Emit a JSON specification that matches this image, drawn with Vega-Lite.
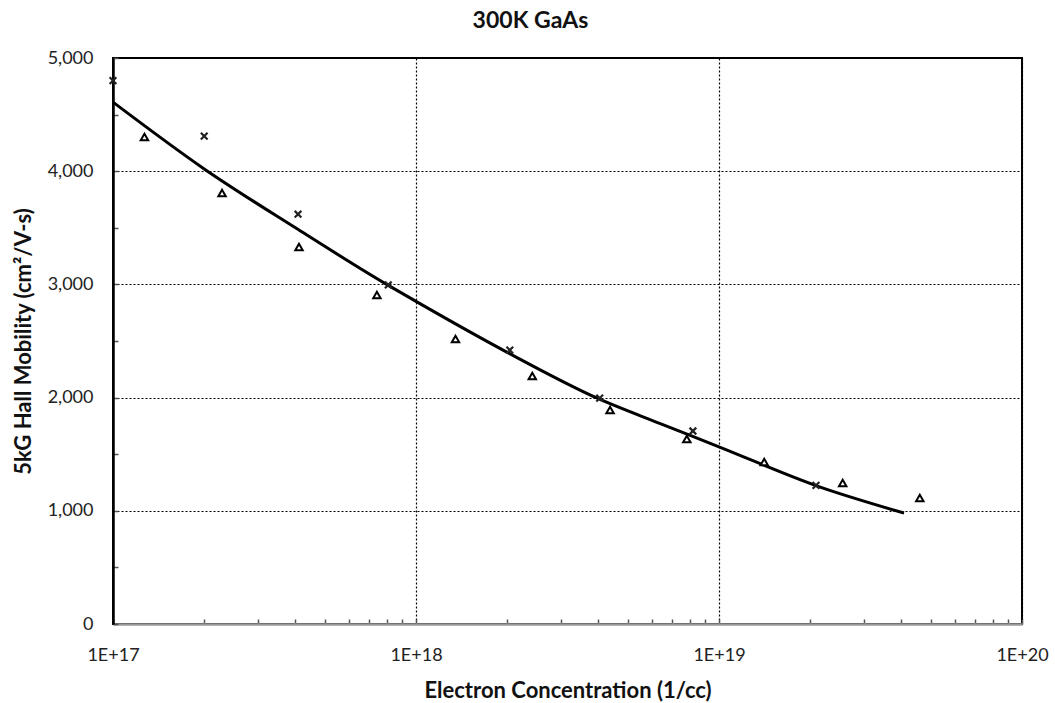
{
  "$schema": "https://vega.github.io/schema/vega-lite/v6.json",
  "width": 909,
  "height": 566,
  "autosize": {"type": "none"},
  "padding": {"left": 113, "top": 58, "right": 33, "bottom": 79},
  "background": "white",
  "title": {"text": "300K GaAs", "font": "Lato", "fontSize": 23, "fontWeight": "bold", "color": "#111", "anchor": "middle", "dx": -37, "offset": 16},
  "config": {
    "view": {"stroke": "black", "strokeWidth": 2},
    "axis": {"labelFont": "Lato", "titleFont": "Lato", "labelFontSize": 18, "titleFontSize": 22, "titleFontWeight": "bold", "labelColor": "#222", "titleColor": "#111", "gridColor": "black", "gridDash": [2, 2], "gridWidth": 1.2, "tickColor": "#555", "tickWidth": 1.5}
  },
  "datasets": {
    "pts": [
      {"n": 1e17, "mu": 4800, "kind": "cross"},
      {"n": 2.0e17, "mu": 4310, "kind": "cross"},
      {"n": 4.08e17, "mu": 3620, "kind": "cross"},
      {"n": 8.1e17, "mu": 2995, "kind": "cross"},
      {"n": 2.04e18, "mu": 2420, "kind": "cross"},
      {"n": 4.04e18, "mu": 1996, "kind": "cross"},
      {"n": 8.2e18, "mu": 1705, "kind": "cross"},
      {"n": 2.09e19, "mu": 1225, "kind": "cross"},
      {"n": 1.27e17, "mu": 4302, "kind": "tri"},
      {"n": 2.29e17, "mu": 3807, "kind": "tri"},
      {"n": 4.11e17, "mu": 3330, "kind": "tri"},
      {"n": 7.43e17, "mu": 2906, "kind": "tri"},
      {"n": 1.35e18, "mu": 2518, "kind": "tri"},
      {"n": 2.42e18, "mu": 2191, "kind": "tri"},
      {"n": 4.37e18, "mu": 1890, "kind": "tri"},
      {"n": 7.83e18, "mu": 1634, "kind": "tri"},
      {"n": 1.41e19, "mu": 1431, "kind": "tri"},
      {"n": 2.56e19, "mu": 1246, "kind": "tri"},
      {"n": 4.6e19, "mu": 1113, "kind": "tri"}
    ],
    "fit": [
      {"n": 1e17, "mu": 4610},
      {"n": 2e17, "mu": 4020},
      {"n": 4e17, "mu": 3500},
      {"n": 8e17, "mu": 3000},
      {"n": 1e18, "mu": 2850},
      {"n": 2e18, "mu": 2400},
      {"n": 4e18, "mu": 1990},
      {"n": 6.4e18, "mu": 1770},
      {"n": 1e19, "mu": 1565},
      {"n": 2.1e19, "mu": 1220},
      {"n": 4.08e19, "mu": 980}
    ]
  },
  "encoding": {
    "x": {
      "field": "n", "type": "quantitative",
      "scale": {"type": "log", "domain": [1e17, 1e20], "nice": false},
      "axis": {
        "title": "Electron Concentration (1/cc)",
        "values": [1e17, 2e17, 3e17, 4e17, 5e17, 6e17, 7e17, 8e17, 9e17, 1e18, 2e18, 3e18, 4e18, 5e18, 6e18, 7e18, 8e18, 9e18, 1e19, 2e19, 3e19, 4e19, 5e19, 6e19, 7e19, 8e19, 9e19, 1e20],
        "labelExpr": "abs(datum.value / pow(10, floor(log(datum.value) / LN10 + 1e-6)) - 1) < 1e-6 ? '1E+' + round(log(datum.value) / LN10) : ''",
        "tickSize": -5,
        "labelPadding": 27,
        "titlePadding": 16,
        "grid": true,
        "gridOpacity": {"condition": {"test": "abs(datum.value / pow(10, floor(log(datum.value) / LN10 + 1e-6)) - 1) < 1e-6", "value": 1}, "value": 0},
        "domainColor": "#999",
        "domainWidth": 2.5,
        "labelFlush": false
      }
    },
    "y": {
      "field": "mu", "type": "quantitative",
      "scale": {"domain": [0, 5000], "nice": false},
      "axis": {
        "title": "5kG Hall Mobility (cm²/V-s)",
        "values": [0, 500, 1000, 1500, 2000, 2500, 3000, 3500, 4000, 4500, 5000],
        "labelExpr": "datum.value % 1000 === 0 ? format(datum.value, ',') : ''",
        "tickSize": -5,
        "labelPadding": 25,
        "titlePadding": 12,
        "grid": true,
        "gridOpacity": {"condition": {"test": "datum.value % 1000 === 0", "value": 1}, "value": 0},
        "domainColor": "black",
        "domainWidth": 2.5,
        "labelFlush": false
      }
    }
  },
  "layer": [
    {
      "data": {"name": "fit"},
      "mark": {"type": "line", "color": "black", "strokeWidth": 3, "interpolate": "monotone"}
    },
    {
      "data": {"name": "pts"},
      "transform": [{"filter": "datum.kind === 'tri'"}],
      "mark": {"type": "point", "shape": "triangle-up", "filled": true, "fill": "white", "stroke": "black", "strokeWidth": 2, "size": 55, "opacity": 1}
    },
    {
      "data": {"name": "pts"},
      "transform": [{"filter": "datum.kind === 'cross'"}],
      "mark": {"type": "point", "shape": "M-1,-1L1,1M-1,1L1,-1", "filled": false, "stroke": "#222", "strokeWidth": 2.2, "size": 45, "opacity": 1}
    }
  ]
}
